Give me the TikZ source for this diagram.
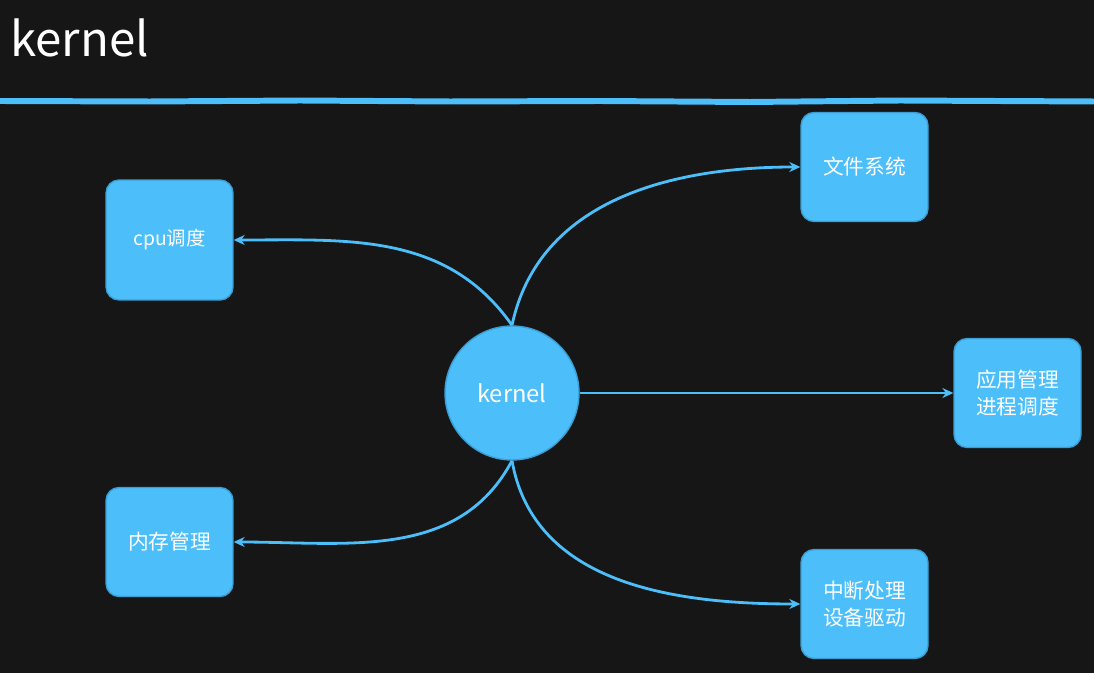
\documentclass[tikz,border=0pt]{standalone}
\usepackage{fontspec}
\setmainfont{Noto Sans CJK SC}
\usetikzlibrary{arrows.meta}
\definecolor{board}{RGB}{22,22,22}
\definecolor{chalkblue}{RGB}{76,190,250}
\definecolor{edgeblue}{RGB}{58,158,212}
\begin{document}
\begin{tikzpicture}[x=0.02cm,y=0.02cm,
  box/.style={draw=edgeblue,line width=0.8pt,fill=chalkblue,rounded corners=0.26cm,minimum width=2.54cm,minimum height=2.18cm,text=white,align=center,inner sep=0pt,font=\fontsize{11.8}{15}\selectfont},
  link/.style={draw=chalkblue,line width=1.6pt,-{Stealth[length=0.22cm,width=0.2cm]}}]
\fill[board] (0,0) rectangle (1094,673) ;
\useasboundingbox (0,0) rectangle (1094,673) ;
\node[anchor=base west,text=white,inner sep=0pt,font=\fontsize{27}{30}\selectfont] (title) at (10,616) {kernel} ;
\draw[chalkblue,line width=3.4pt] (0,572) -- (150,571.5) -- (300,572.5) -- (450,571.5) -- (600,572) -- (750,571) -- (900,572.5) -- (1094,571.5) ;
\node[circle,draw=edgeblue,line width=0.8pt,fill=chalkblue,minimum size=2.68cm,text=white,font=\fontsize{13.5}{15}\selectfont] (kern) at (512,280) {kernel} ;
\node[box,minimum height=2.4cm,font=\fontsize{11}{14}\selectfont] (cpu) at (169.5,433) {cpu调度} ;
\node[box] (fs) at (864.5,506) {文件系统} ;
\node[box] (app) at (1017.5,280) {应用管理\\进程调度} ;
\node[box] (mem) at (169.5,131) {内存管理} ;
\node[box] (irq) at (864.5,69) {中断处理\\设备驱动} ;
\draw[link] (kern.north) to[out=125,in=0] (cpu.east) ;
\draw[link] (kern.north) to[out=78,in=180] (fs.west) ;
\draw[link] (kern.east) -- (app.west) ;
\draw[link] (kern.south) to[out=-118,in=0] (mem.east) ;
\draw[link] (kern.south) to[out=-80,in=180] (irq.west) ;
\end{tikzpicture}
\end{document}
